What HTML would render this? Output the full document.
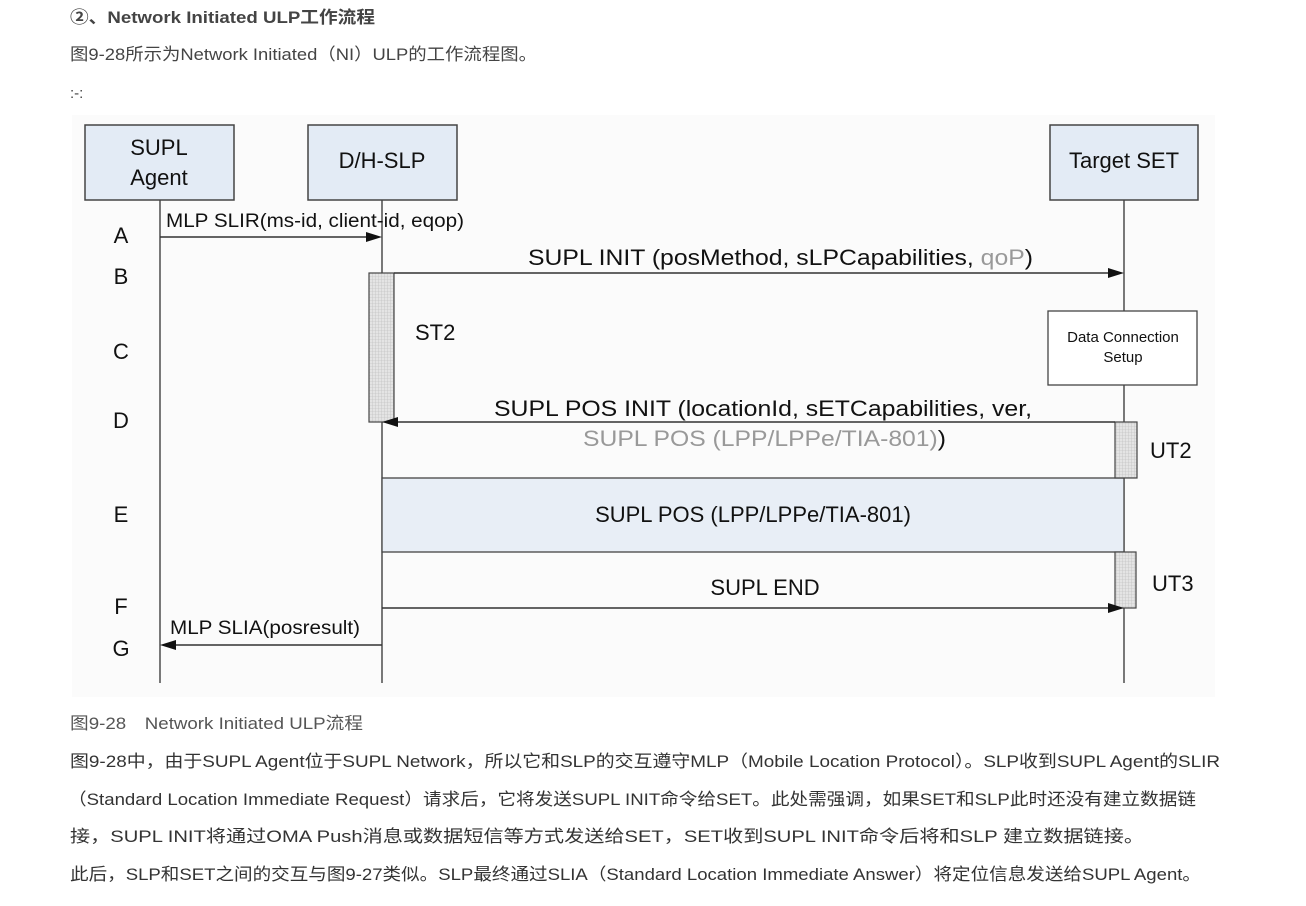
<!DOCTYPE html>
<html><head><meta charset="utf-8"><style>
html,body{margin:0;padding:0;background:#fff;width:1306px;height:906px;overflow:hidden}
svg{display:block}
.cj{font-family:"Liberation Sans","Noto Sans CJK SC",sans-serif}
.d{font-family:"Liberation Sans",sans-serif;fill:#111}
</style></head><body>
<svg width="1306" height="906" viewBox="0 0 1306 906">
<defs>
<pattern id="hp" width="3" height="3" patternUnits="userSpaceOnUse"><rect width="3" height="3" fill="#e4e4e4"/><path d="M0 0H3M0 0V3" stroke="#b8b8b8" stroke-width="0.6"/></pattern>
</defs>
<text class="cj" x="70" y="23" font-size="17" font-weight="bold" fill="#444" textLength="305" lengthAdjust="spacingAndGlyphs">②、Network Initiated ULP工作流程</text>
<text class="cj" x="70" y="60" font-size="17" fill="#444" textLength="467" lengthAdjust="spacingAndGlyphs">图9-28所示为Network Initiated（NI）ULP的工作流程图。</text>
<text class="cj" x="70" y="98" font-size="15" fill="#444">:-:</text>

<rect x="72" y="115" width="1143" height="582" fill="#fbfbfb"/>
<!-- lifelines -->
<g stroke="#333" stroke-width="1.3">
<line x1="160" y1="200" x2="160" y2="683"/>
<line x1="382" y1="200" x2="382" y2="683"/>
<line x1="1124" y1="200" x2="1124" y2="683"/>
</g>
<!-- headers -->
<g fill="#e3ebf5" stroke="#444" stroke-width="1.5">
<rect x="85" y="125" width="149" height="75"/>
<rect x="308" y="125" width="149" height="75"/>
<rect x="1050" y="125" width="148" height="75"/>
</g>
<g class="d" font-size="22" text-anchor="middle">
<text x="159" y="155">SUPL</text><text x="159" y="185">Agent</text>
<text x="382" y="168">D/H-SLP</text>
<text x="1124" y="168">Target SET</text>
</g>
<!-- letters -->
<g class="d" font-size="22" text-anchor="middle">
<text x="121" y="243">A</text><text x="121" y="284">B</text><text x="121" y="359">C</text>
<text x="121" y="428">D</text><text x="121" y="522">E</text><text x="121" y="614">F</text><text x="121" y="656">G</text>
</g>
<!-- E band -->
<rect x="382" y="478" width="742" height="74" fill="#e8eef6" stroke="#444" stroke-width="1.3"/>
<text class="d" x="753" y="522" font-size="22" text-anchor="middle">SUPL POS (LPP/LPPe/TIA-801)</text>
<!-- activation bars -->
<g fill="url(#hp)" stroke="#444" stroke-width="1.2">
<rect x="369" y="273" width="25" height="149"/>
<rect x="1115" y="422" width="22" height="56"/>
<rect x="1115" y="552" width="21" height="56"/>
</g>
<!-- data connection box -->
<rect x="1048" y="311" width="149" height="74" fill="#fff" stroke="#444" stroke-width="1.3"/>
<text class="d" x="1123" y="342" font-size="15" text-anchor="middle">Data Connection</text>
<text class="d" x="1123" y="362" font-size="15" text-anchor="middle">Setup</text>
<!-- arrows -->
<g stroke="#333" stroke-width="1.5">
<line x1="160" y1="237" x2="372" y2="237"/>
<line x1="394" y1="273" x2="1112" y2="273"/>
<line x1="1115" y1="422" x2="396" y2="422"/>
<line x1="382" y1="608" x2="1112" y2="608"/>
<line x1="382" y1="645" x2="172" y2="645"/>
</g>
<g fill="#111">
<path d="M382 237 L366 232 L366 242Z"/>
<path d="M1124 273 L1108 268 L1108 278Z"/>
<path d="M382 422 L398 417 L398 427Z"/>
<path d="M1124 608 L1108 603 L1108 613Z"/>
<path d="M160 645 L176 640 L176 650Z"/>
</g>
<g class="d" font-size="19">
<text x="166" y="227" textLength="298" lengthAdjust="spacingAndGlyphs">MLP SLIR(ms-id, client-id, eqop)</text>
<text x="528" y="265" font-size="22" textLength="505" lengthAdjust="spacingAndGlyphs">SUPL INIT (posMethod, sLPCapabilities, <tspan fill="#999">qoP</tspan>)</text>
<text x="415" y="340" font-size="22">ST2</text>
<text x="494" y="416" font-size="22" textLength="538" lengthAdjust="spacingAndGlyphs">SUPL POS INIT (locationId, sETCapabilities, ver,</text>
<text x="583" y="446" font-size="22" fill="#999" textLength="363" lengthAdjust="spacingAndGlyphs">SUPL POS (LPP/LPPe/TIA-801)<tspan fill="#111">)</tspan></text>
<text x="1150" y="458" font-size="22">UT2</text>
<text x="1152" y="591" font-size="22">UT3</text>
<text x="765" y="595" font-size="22" text-anchor="middle">SUPL END</text>
<text x="170" y="634" textLength="190" lengthAdjust="spacingAndGlyphs">MLP SLIA(posresult)</text>
</g>

<g class="cj" font-size="17" fill="#333">
<text x="70" y="729" fill="#555" textLength="293" lengthAdjust="spacingAndGlyphs">图9-28　Network Initiated ULP流程</text>
<text x="70" y="767" textLength="1150" lengthAdjust="spacingAndGlyphs">图9-28中，由于SUPL Agent位于SUPL Network，所以它和SLP的交互遵守MLP（Mobile Location Protocol）。SLP收到SUPL Agent的SLIR</text>
<text x="68" y="805" textLength="1128" lengthAdjust="spacingAndGlyphs">（Standard Location Immediate Request）请求后，它将发送SUPL INIT命令给SET。此处需强调，如果SET和SLP此时还没有建立数据链</text>
<text x="70" y="842" textLength="1074" lengthAdjust="spacingAndGlyphs">接，SUPL INIT将通过OMA Push消息或数据短信等方式发送给SET，SET收到SUPL INIT命令后将和SLP 建立数据链接。</text>
<text x="70" y="880" textLength="1131" lengthAdjust="spacingAndGlyphs">此后，SLP和SET之间的交互与图9-27类似。SLP最终通过SLIA（Standard Location Immediate Answer）将定位信息发送给SUPL Agent。</text>
</g>
</svg>
</body></html>
